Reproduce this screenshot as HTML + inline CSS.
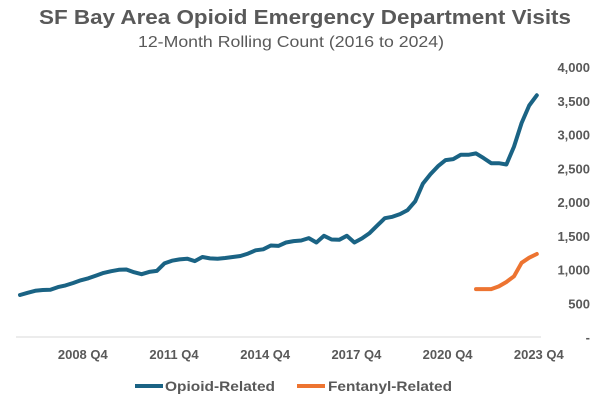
<!DOCTYPE html>
<html><head><meta charset="utf-8"><style>
html,body{margin:0;padding:0;background:#fff;}
svg{display:block;font-family:"Liberation Sans",sans-serif;}
</style></head><body>
<svg id="chart" width="607" height="405" viewBox="0 0 607 405" xmlns="http://www.w3.org/2000/svg">
<text x="305" y="24" text-anchor="middle" font-size="20" font-weight="bold" fill="#595959" textLength="532" lengthAdjust="spacingAndGlyphs">SF Bay Area Opioid Emergency Department Visits</text>
<text x="291" y="47" text-anchor="middle" font-size="16" fill="#595959" textLength="306" lengthAdjust="spacingAndGlyphs">12-Month Rolling Count (2016 to 2024)</text>
<g id="yaxis"></g>
<g id="xaxis"></g>
<line x1="16" x2="541" y1="337" y2="337" stroke="#d9d9d9" stroke-width="1"/>
<g id="series"></g>
<g>
<g>
<line x1="135" x2="163" y1="386" y2="386" stroke="#1a6384" stroke-width="4"/>
<text x="165" y="391" font-size="14" font-weight="bold" fill="#595959" textLength="110" lengthAdjust="spacingAndGlyphs">Opioid-Related</text></g>
<g>
<line x1="297" x2="325" y1="386" y2="386" stroke="#ed7431" stroke-width="4"/>
<text x="328" y="391" font-size="14" font-weight="bold" fill="#595959" textLength="124" lengthAdjust="spacingAndGlyphs">Fentanyl-Related</text></g>
</g>
</svg>
<script>
const opioidValues=[622,655,685,696,700,740,765,800,840,870,910,950,975,995,1000,960,930,965,980,1090,1130,1150,1160,1125,1185,1165,1160,1170,1185,1200,1235,1285,1300,1355,1350,1400,1420,1430,1465,1400,1500,1445,1440,1500,1400,1460,1540,1650,1760,1780,1820,1880,2010,2270,2410,2530,2620,2635,2700,2700,2720,2650,2575,2575,2555,2820,3170,3430,3580];
const fentanylStart=60;
const fentanylValues=[710,710,710,750,815,900,1100,1175,1230];
const yTicks=[0,500,1000,1500,2000,2500,3000,3500,4000];
const yTickLabels=["-","500","1,000","1,500","2,000","2,500","3,000","3,500","4,000"];
const xTickIndex=[8,20,32,44,56,68];
const xTickLabels=["2008 Q4","2011 Q4","2014 Q4","2017 Q4","2020 Q4","2023 Q4"];
const NS="http://www.w3.org/2000/svg";
const X0=20,DX=7.6,Y0=337,YK=0.0675;
function xs(i){return X0+DX*i;}
function ys(v){return Y0-v*YK;}
function mk(tag,attrs,parent){const e=document.createElementNS(NS,tag);for(const k in attrs)e.setAttribute(k,attrs[k]);parent.appendChild(e);return e;}
const ya=document.getElementById('yaxis');
yTicks.forEach((v,i)=>{const t=mk('text',{x:590,y:ys(v)+5,'text-anchor':'end','font-size':'13','font-weight':'bold',fill:'#595959'},ya);


t.textContent=yTickLabels[i];});
const xa=document.getElementById('xaxis');
xTickIndex.forEach((idx,i)=>{const t=mk('text',{x:xs(idx)+2,y:359,'text-anchor':'middle','font-size':'13','font-weight':'bold',fill:'#595959'},xa);


t.textContent=xTickLabels[i];});
const sg=document.getElementById('series');
const p1=mk('path',{d:opioidValues.map((v,i)=>(i?'L':'M')+xs(i).toFixed(1)+' '+ys(v).toFixed(1)).join(' '),fill:'none',stroke:'#1a6384','stroke-width':'4','stroke-linejoin':'round','stroke-linecap':'round'},sg);


const p2=mk('path',{d:fentanylValues.map((v,i)=>(i?'L':'M')+xs(fentanylStart+i).toFixed(1)+' '+ys(v).toFixed(1)).join(' '),fill:'none',stroke:'#ed7431','stroke-width':'4','stroke-linejoin':'round','stroke-linecap':'round'},sg);


</script>
</body></html>
